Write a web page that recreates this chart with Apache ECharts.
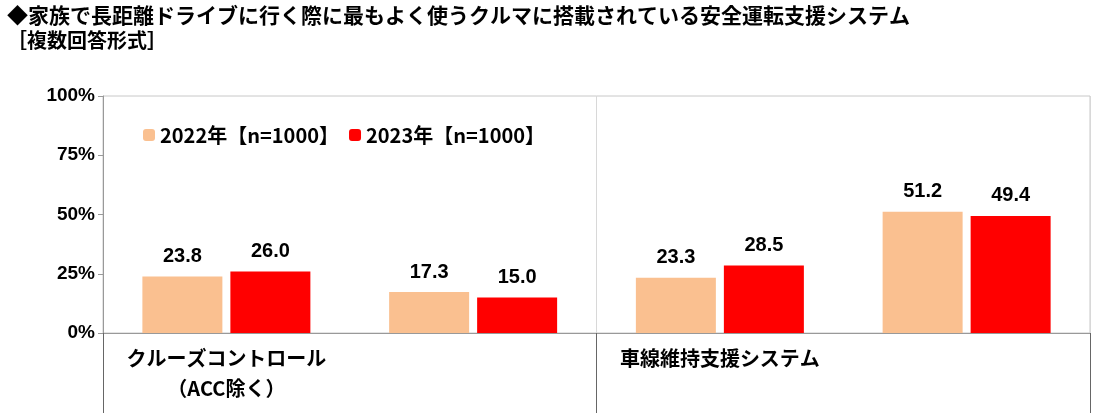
<!DOCTYPE html><html><head><meta charset="utf-8"><script src="https://cdn.jsdelivr.net/npm/echarts@6/dist/echarts.min.js"></script></head><body style="margin:0;background:#fff"><div id="c" style="width:1100px;height:419px"></div><script>
const categories=['クルーズコントロール\n（ACC除く）','追従型クルーズ\nコントロール（ACC）','車線維持支援システム','いずれも\n搭載されていない'];
const s2022=[23.8,17.3,23.3,51.2];
const s2023=[26.0,15.0,28.5,49.4];
const yTicks=[0,25,50,75,100];
const F='"Noto Sans CJK JP",sans-serif';
const c=echarts.init(document.getElementById('c'));
const lab={show:true,position:'top',distance:10,color:'#000',fontSize:20,fontWeight:'bold',fontFamily:'Arial,"Liberation Sans",sans-serif',formatter:p=>p.value.toFixed(1)};
c.setOption({
title:{text:'◆家族で長距離ドライブに行く際に最もよく使うクルマに搭載されている安全運転支援システム',subtext:'［複数回答形式］',left:2,top:0,itemGap:4,textStyle:{fontSize:21,fontWeight:'bold',color:'#000',fontFamily:F},subtextStyle:{fontSize:20,fontWeight:'bold',color:'#000',fontFamily:F}},
legend:{left:138,top:120,itemWidth:12,itemHeight:12,itemGap:10,textStyle:{fontSize:20,fontWeight:'bold',color:'#000',fontFamily:F},data:['2022年【n=1000】','2023年【n=1000】']},
grid:{left:103,right:10,top:96,bottom:86,show:true,borderColor:'#c8c8c8',borderWidth:1},
xAxis:{type:'category',data:categories,axisLine:{lineStyle:{color:'#999'}},axisTick:{show:true,length:80,lineStyle:{color:'#666'}},splitLine:{show:true,lineStyle:{color:'#d8d8d8'}},axisLabel:{color:'#000',fontSize:20,fontWeight:'bold',fontFamily:F,lineHeight:30,margin:10}},
yAxis:{type:'value',min:0,max:100,interval:25,axisLine:{show:true,lineStyle:{color:'#999'}},axisTick:{show:true,length:5,lineStyle:{color:'#999'}},splitLine:{show:false},axisLabel:{color:'#000',fontSize:19,fontWeight:'bold',fontFamily:'Arial,"Liberation Sans",sans-serif',formatter:v=>yTicks.includes(v)?v+'%':''}},
series:[{name:'2022年【n=1000】',type:'bar',data:s2022,barWidth:80,barGap:'10%',itemStyle:{color:'#FAC090'},label:lab},
{name:'2023年【n=1000】',type:'bar',data:s2023,barWidth:80,itemStyle:{color:'#FF0000'},label:lab}]
});
</script></body></html>
